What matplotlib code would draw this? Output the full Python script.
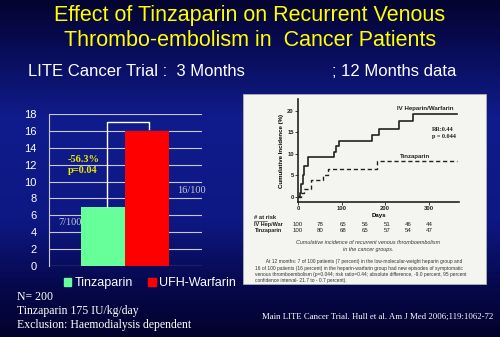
import numpy as np
import matplotlib
matplotlib.use('Agg')
import matplotlib.pyplot as plt
from matplotlib.patches import Rectangle, Patch

# ---------------------------------------------------------------- data
groups = ['Tinzaparin', 'UFH-Warfarin']
events_3m = [7, 16]
bar_colors = ['#66ff99', '#ff0000']
bar_labels = ['7/100', '16/100']

# Kaplan-Meier curves, 12 months
hw_days = [0, 4, 8, 11, 14, 23, 82, 87, 95, 170, 186, 231, 264, 365]
hw_inc = [0, 1.0, 2.9, 5.0, 7.3, 9.3, 10.5, 11.8, 13.1, 14.5, 15.9, 17.7, 19.4, 19.4]
tz_days = [0, 8, 14, 30, 57, 68, 182, 365]
tz_inc = [0, 0.9, 1.8, 4.0, 5.1, 6.5, 8.3, 8.3]

risk_hw = [100, 78, 65, 56, 51, 46, 44]
risk_tz = [100, 80, 68, 65, 57, 54, 47]

SANS = 'Liberation Sans'
SERIF = 'Liberation Serif'

W, H = 500, 337
fig = plt.figure(figsize=(W / 100, H / 100), dpi=100)

def fx(px):
    return px / W

def fy(py):
    return 1 - py / H

# background gradient
bg = fig.add_axes([0, 0, 1, 1], zorder=-10)
stops = np.array([0.0, 0.12, 0.35, 0.65, 0.85, 1.0])
cols = np.array([[0x04, 0x04, 0x30], [0x08, 0x0a, 0x50], [0x10, 0x1c, 0x8c],
                 [0x0e, 0x18, 0x84], [0x06, 0x08, 0x4c], [0x02, 0x02, 0x2c]]) / 255
yy = np.linspace(0, 1, 337)
grad = np.stack([np.interp(yy, stops, cols[:, i]) for i in range(3)], axis=-1)
bg.imshow(grad[:, None, :], aspect='auto', extent=[0, 1, 0, 1])
bg.axis('off')

# titles
fig.text(0.5, fy(16), 'Effect of Tinzaparin on Recurrent Venous', color='#ffff00',
         family=SANS, fontsize=15.5, ha='center', va='center')
fig.text(0.5, fy(41), 'Thrombo-embolism in  Cancer Patients', color='#ffff00',
         family=SANS, fontsize=15.5, ha='center', va='center')
fig.text(fx(28), fy(72), 'LITE Cancer Trial :  3 Months', color='white',
         family=SANS, fontsize=12, ha='left', va='center')
fig.text(fx(332), fy(72), '; 12 Months data', color='white',
         family=SANS, fontsize=12, ha='left', va='center')

# ---------------------------------------------------------------- bar chart
ax = fig.add_axes([fx(49), fy(266), fx(202) - fx(49), fy(114) - fy(266)])
ax.set_facecolor('none')
x = np.arange(len(groups))
ax.bar(x, events_3m, width=1.0, color=bar_colors, zorder=3)
ax.set_xlim(-1.227, 2.25)
ax.set_ylim(0, 18)
ax.set_yticks(range(0, 19, 2))
ax.set_xticks([])
ax.grid(axis='y', color='#c8c8d8', lw=0.8, zorder=1)
for s in ['top', 'right', 'bottom']:
    ax.spines[s].set_visible(False)
ax.spines['left'].set_color('#c8c8d8')
ax.axhline(0, color='#c8c8d8', lw=0.8, zorder=1)
ax.tick_params(axis='y', colors='white', labelsize=8, length=0, pad=9)
for lab in ax.get_yticklabels():
    lab.set_family(SANS)

# significance bracket
ax.plot([0.09, 0.09, 1.045, 1.045], [events_3m[0], 17.1, 17.1, 16.2],
        color='white', lw=1.0, zorder=4, clip_on=False)
ax.text(-0.45, 12.0, '-56.3%\np=0.04', color='#e8e800', family=SERIF,
        fontweight='bold', fontsize=7.5, ha='center', va='center', linespacing=1.3)
ax.text(-0.75, 5.1, bar_labels[0], color='#c8c8d8', family=SERIF, fontsize=7.5,
        ha='center', va='center')
ax.text(2.0, 8.9, bar_labels[1], color='#c8c8d8', family=SERIF, fontsize=7.5,
        ha='center', va='center', clip_on=False)

handles = [Patch(color=c, label=g) for c, g in zip(bar_colors, groups)]
leg = fig.legend(handles=handles, loc='center', bbox_to_anchor=(fx(150), fy(283)),
                 ncol=2, frameon=False, handlelength=0.6, handleheight=0.6,
                 handletextpad=0.3, columnspacing=1.2,
                 prop={'family': SANS, 'size': 9})
for t in leg.get_texts():
    t.set_color('white')

# bottom text
fig.text(fx(17), fy(297), 'N= 200', color='white', family=SERIF, fontsize=8.5, va='center')
fig.text(fx(17), fy(311), 'Tinzaparin 175 IU/kg/day', color='white', family=SERIF,
         fontsize=8.5, va='center')
fig.text(fx(17), fy(325), 'Exclusion: Haemodialysis dependent', color='white',
         family=SERIF, fontsize=8.5, va='center')
fig.text(fx(262), fy(317), 'Main LITE Cancer Trial. Hull et al. Am J Med 2006;119:1062-72',
         color='white', family=SERIF, fontsize=6.3, va='center')

# ---------------------------------------------------------------- KM panel
panel = Rectangle((fx(243), fy(284)), fx(486) - fx(243), fy(94) - fy(284),
                  transform=fig.transFigure, facecolor='#f4f4f0', edgecolor='#b0b0b0',
                  lw=0.6, zorder=-5)
fig.patches.append(panel)

km = fig.add_axes([fx(298), fy(202), fx(459) - fx(298), fy(99) - fy(202)], zorder=2)
km.set_facecolor('none')
km.step(hw_days, hw_inc, where='post', color='#222222', lw=1.2)
km.step(tz_days, tz_inc, where='post', color='#222222', lw=1.0, ls=(0, (3, 2)))
km.set_xlim(0, 370)
km.set_ylim(-1.2, 22.8)
km.set_xticks([0, 100, 200, 300])
km.set_yticks([0, 5, 10, 15, 20])
for s in ['top', 'right']:
    km.spines[s].set_visible(False)
for s in ['left', 'bottom']:
    km.spines[s].set_linewidth(1.2)
    km.spines[s].set_color('#222222')
km.tick_params(labelsize=4.2, length=2, width=0.6, pad=1, colors='#222222')
for lab in km.get_xticklabels() + km.get_yticklabels():
    lab.set_family(SANS)
    lab.set_fontweight('bold')
km.set_xlabel('Days', fontsize=4.4, family=SANS, fontweight='bold', labelpad=1)
km.set_ylabel('Cumulative Incidence (%)', fontsize=4.4, family=SANS, fontweight='bold',
              labelpad=2)
km.text(228, 20.7, 'IV Heparin/Warfarin', fontsize=4.4, family=SANS, fontweight='bold',
        color='#222222', va='center')
km.text(307, 14.9, 'RR:0.44\np = 0.044', fontsize=4.4, family=SERIF, fontweight='bold',
        color='#222222', va='center', linespacing=1.4)
km.text(234, 9.3, 'Tinzaparin', fontsize=4.4, family=SANS, fontweight='bold',
        color='#222222', va='center')

# at-risk table
col_days = [0, 51, 103, 154, 205, 253, 301]
km.text(-100, -4.9, '# at risk', fontsize=4.2, family=SANS, fontweight='bold',
        color='#222222', va='center', clip_on=False)
km.plot([-100, -72], [-5.7, -5.7], color='#222222', lw=0.4, clip_on=False)
km.text(-100, -6.5, 'IV Hep/War', fontsize=4.0, family=SANS, fontweight='bold',
        color='#222222', va='center', clip_on=False)
km.text(-100, -7.9, 'Tinzaparin', fontsize=4.0, family=SANS, fontweight='bold',
        color='#222222', va='center', clip_on=False)
for d, a, b in zip(col_days, risk_hw, risk_tz):
    km.text(d, -6.5, str(a), fontsize=4.4, family=SANS, color='#222222',
            ha='center', va='center', clip_on=False)
    km.text(d, -7.9, str(b), fontsize=4.4, family=SANS, color='#222222',
            ha='center', va='center', clip_on=False)

# caption
fig.text(fx(368), fy(243), 'Cumulative incidence of recurrent venous thromboembolism',
         fontsize=3.9, family=SANS, style='italic', color='#333333', ha='center', va='center')
fig.text(fx(368), fy(249.5), 'in the cancer groups.', fontsize=3.9, family=SANS,
         style='italic', color='#333333', ha='center', va='center')
para = ['        At 12 months: 7 of 100 patients (7 percent) in the low-molecular-weight heparin group and',
        '16 of 100 patients (16 percent) in the heparin-warfarin group had new episodes of symptomatic',
        'venous thromboembolism (p=0.044; risk ratio=0.44; absolute difference, -9.0 percent, 95 percent',
        'confidence interval- 21.7 to - 0.7 percent).']
for i, line in enumerate(para):
    fig.text(fx(255), fy(262 + 6.3 * i), line, fontsize=3.5, family=SANS,
             color='#333333', ha='left', va='center')

fig.savefig('out.png', dpi=100)
